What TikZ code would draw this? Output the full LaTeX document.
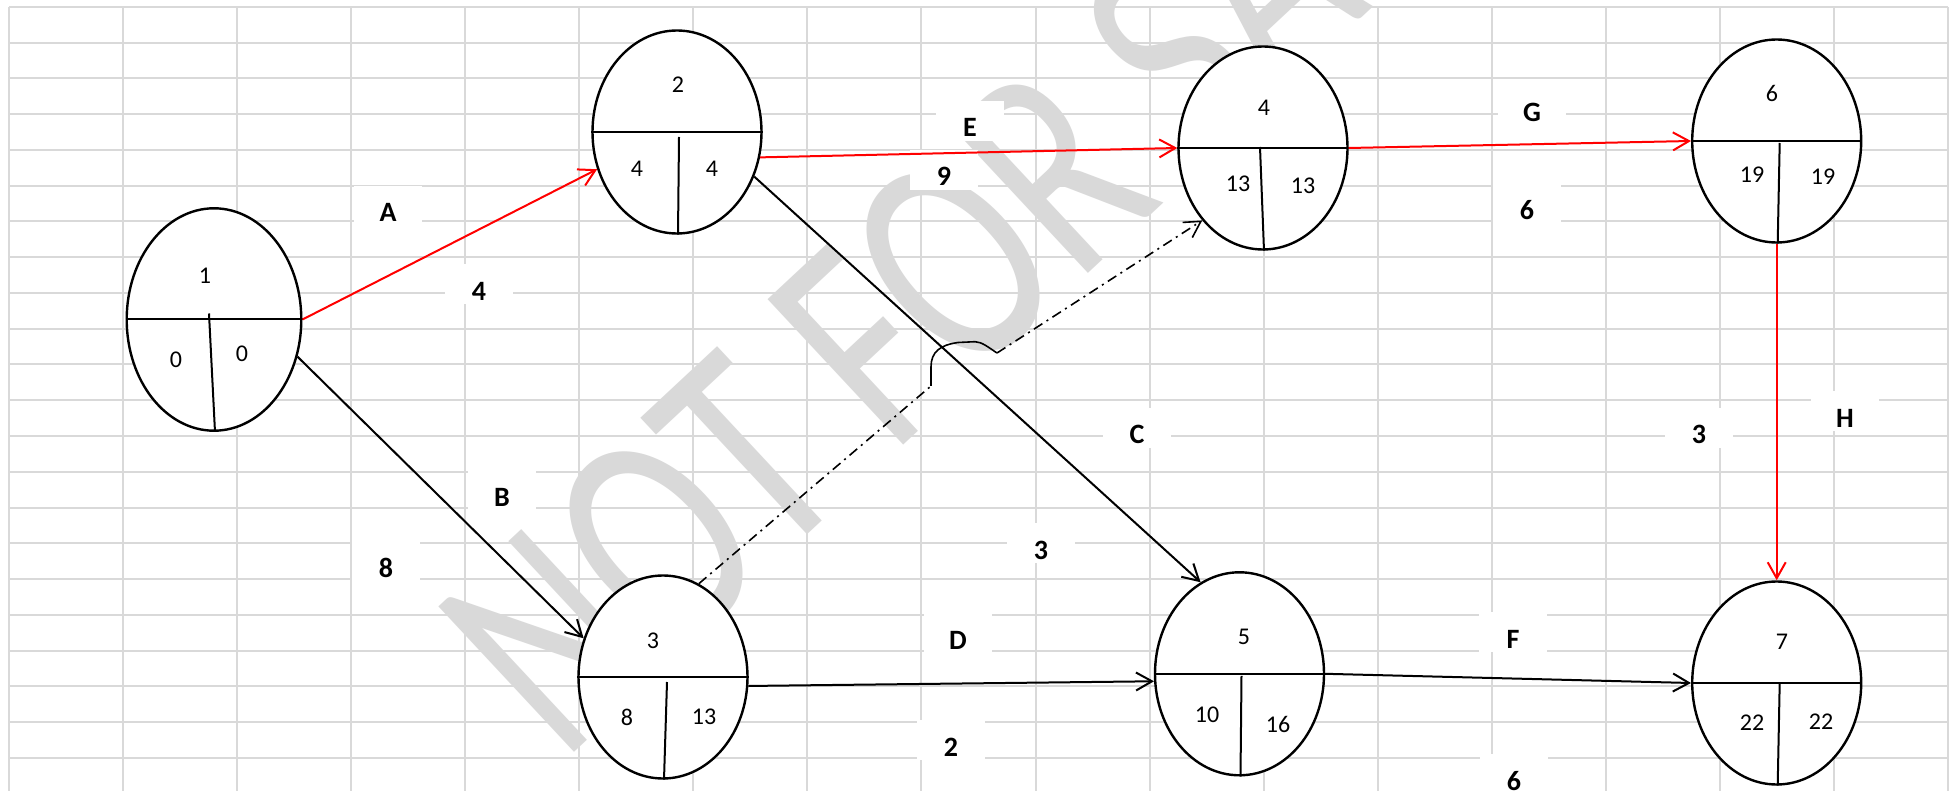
\documentclass[tikz,border=0pt]{standalone}
\usepackage{fontspec}
\setmainfont{Carlito}
\usetikzlibrary{shapes.geometric, arrows.meta, calc}
\tikzset{
    event/.style={
        ellipse, draw=black, line width=1.2pt, fill=white,
        minimum width=84.5pt, minimum height=101.5pt, inner sep=0pt
    },
    num/.style={inner sep=0pt, font=\fontsize{12}{14}\selectfont},
    lbl/.style={
        fill=white, inner sep=0pt, minimum width=34pt,
        text height=18pt, text depth=2pt,
        font=\fontsize{14}{16}\selectfont\bfseries
    },
    split/.style={line width=1pt},
    arrow/.style={-{Straight Barb[length=8pt, width=9pt]}, line width=1pt},
    critical/.style={arrow, red},
    dummy/.style={line width=0.8pt, dash pattern=on 5pt off 2.5pt on 1pt off 2.5pt},
    gridline/.style={draw=black!15, line width=1pt}
}

\begin{document}
\begin{tikzpicture}[x=0.5pt, y=-0.5pt]
    \useasboundingbox (0,0) rectangle (1950,791);
    \clip (0,0) rectangle (1950,791);
    \fill[white] (0,0) rectangle (1950,791);

    % Spreadsheet grid
    \foreach \k in {0,...,17}
        \draw[gridline] (9+114.06*\k,7) -- (9+114.06*\k,791);
    \foreach \k in {0,...,21}
        \draw[gridline] (9,7+35.75*\k) -- (1948,7+35.75*\k);

    % Watermark
    \node[rotate=43, anchor=base west, inner sep=0pt, text=black!15,
          font=\fontsize{155}{160}\selectfont] (wm) at (562,764)
          {\scalebox{0.73}[1]{NOT FOR SALE}};

    % Activity letters and durations
    \foreach \nm/\x/\y/\t in {lA/388/206/A, dA/479/284/4, lB/502/490/B, dB/386/561/8,
                              lC/1137/428/C, dC/1041/543/3, lD/958/633/D, dD/951/740/2,
                              lE/970/121/E, dE/944/170/9, lG/1532/106/G, dG/1527/204/6,
                              lH/1845/411/H, dH/1699/428/3, lF/1513/632/F, dF/1514/774/6}
        \node[lbl] (\nm) at (\x,\y) {\t};

    % Events
    \node[event, minimum width=87.3pt, minimum height=111.2pt] (n1) at (214,319.5) {};
    \node[event] (n2) at (677,132) {};
    \node[event] (n3) at (663,677) {};
    \node[event] (n4) at (1263,148) {};
    \node[event] (n5) at (1239.5,673.8) {};
    \node[event] (n6) at (1776.7,141) {};
    \node[event] (n7) at (1776.7,683) {};

    \foreach \n/\dx/\dy in {n1/-5/-6, n2/2/5, n3/4/5, n4/-3/-1, n5/2/2, n6/3/2, n7/3/0} {
        \draw[split] (\n.west) -- (\n.east);
        \draw[split] ($(\n.center)+(\dx,\dy)$) -- ($(\n.south)+(1,0)$);
    }

    % Event number, earliest and latest times
    \foreach \nm/\x/\y/\t in {t1/205/276/1, es1/176/360/0, lf1/242/354/0,
                              t2/678/85/2, es2/637/169/4, lf2/712/169/4,
                              t3/653/641/3, es3/627/717/8, lf3/704/717/13,
                              t4/1264/108/4, es4/1238/184/13, lf4/1303/186/13,
                              t5/1244/637/5, es5/1207/715/10, lf5/1278/724/16,
                              t6/1772/93/6, es6/1752/175/19, lf6/1823/177/19,
                              t7/1782/642/7, es7/1752/723/22, lf7/1821/722/22}
        \node[num] (\nm) at (\x,\y) {\t};

    % Critical path (red)
    \draw[critical] (n1.east) -- (n2.205);    % A
    \draw[critical] (n2.-17) -- (n4.west);    % E
    \draw[critical] (n4.east) -- (n6.west);   % G
    \draw[critical] (n6.south) -- (n7.north); % H

    % Other activities
    \draw[arrow] (n1.-24) -- (n3.154);   % B
    \draw[arrow] (n2.-30) -- (n5.113);   % C
    \draw[arrow] (n3.-6) -- (n5.185);    % D
    \draw[arrow] (n5.east) -- (n7.west); % F

    % Dummy, jumping over C
    \coordinate (jmpA) at (931,386);
    \coordinate (jmpB) at (997,353);
    \draw[dummy] (n3.69) -- (jmpA);
    \draw[line width=0.8pt] (jmpA) -- (931,367)
        .. controls (931,352) and (940,345) .. (958,342.5) -- (975,341.7)
        .. controls (982,342) and (988,347) .. (jmpB);
    \draw[arrow, dummy] (jmpB) -- (n4.230);
\end{tikzpicture}
\end{document}
